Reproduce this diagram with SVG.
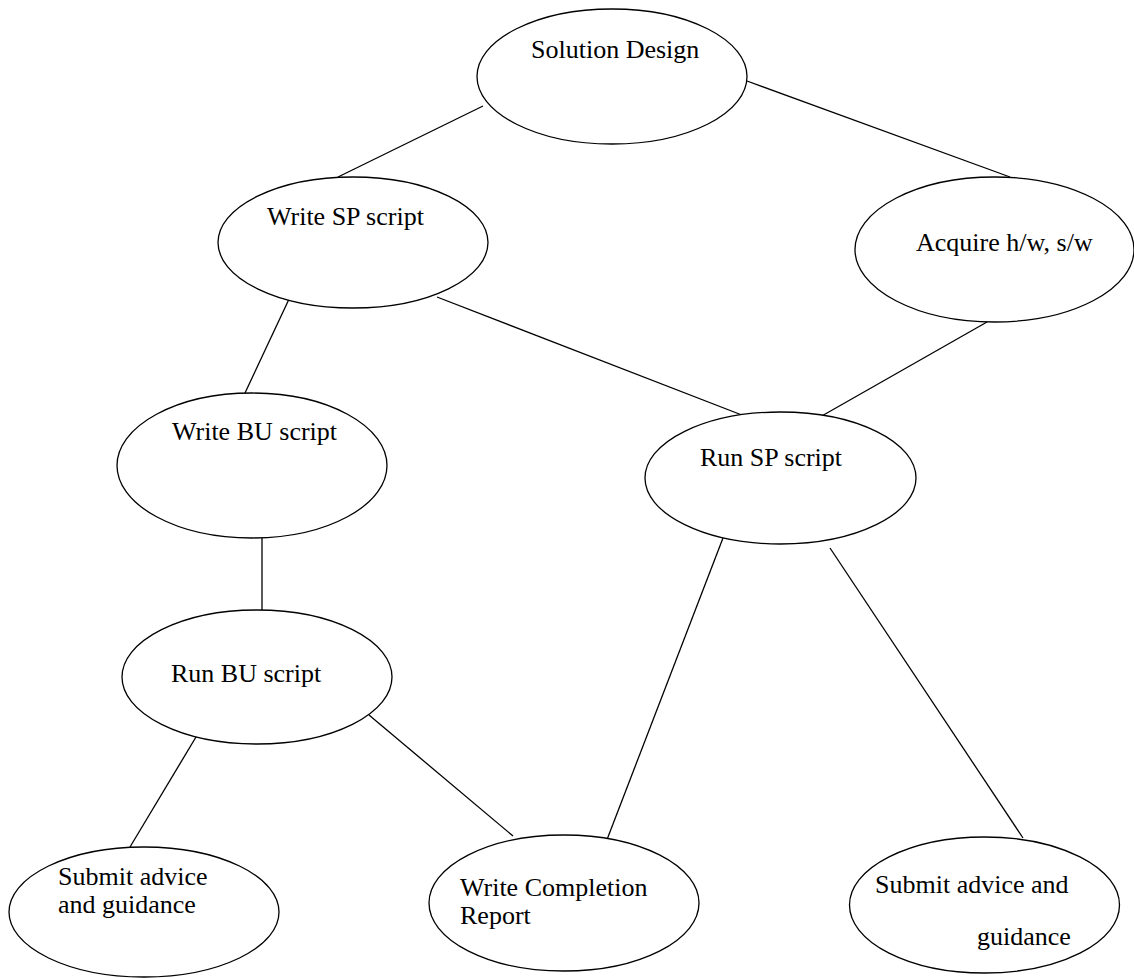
<svg xmlns="http://www.w3.org/2000/svg" width="1134" height="978" viewBox="0 0 1134 978">
<style>
.n{fill:#fff;stroke:#000;stroke-width:1.3}
.t{font-family:"Liberation Serif","Times New Roman",serif;font-size:26px;fill:#000}
.c line{stroke:#000;stroke-width:1.3}
</style>
<rect width="1134" height="978" fill="#fff"/>
<g id="connectors" class="c">
<line x1="483" y1="106" x2="338" y2="177"/>
<line x1="747" y1="81" x2="1010" y2="177"/>
<line x1="290" y1="297" x2="245" y2="393"/>
<line x1="437" y1="297" x2="747" y2="417"/>
<line x1="987" y1="322" x2="820" y2="417"/>
<line x1="262" y1="538" x2="262" y2="610"/>
<line x1="723" y1="538" x2="603" y2="850"/>
<line x1="830" y1="548" x2="1023" y2="838"/>
<line x1="202" y1="727" x2="130" y2="847"/>
<line x1="369" y1="715" x2="513" y2="836"/>
</g>
<g id="solution-design"><ellipse class="n" cx="612" cy="76.5" rx="135" ry="67.5"/><text class="t" x="531" y="58">Solution Design</text></g>
<g id="write-sp"><ellipse class="n" cx="353" cy="242.5" rx="135" ry="65.5"/><text class="t" x="267" y="225">Write SP script</text></g>
<g id="acquire"><ellipse class="n" cx="994.5" cy="249.5" rx="139.5" ry="72.5"/><text class="t" x="916" y="251">Acquire h/w, s/w</text></g>
<g id="write-bu"><ellipse class="n" cx="252" cy="465.5" rx="135" ry="72.5"/><text class="t" x="172" y="440">Write BU script</text></g>
<g id="run-sp"><ellipse class="n" cx="780.5" cy="478" rx="135.5" ry="66"/><text class="t" x="700" y="466">Run SP script</text></g>
<g id="run-bu"><ellipse class="n" cx="257" cy="677" rx="135" ry="67"/><text class="t" x="171" y="682">Run BU script</text></g>
<g id="submit-left"><ellipse class="n" cx="144" cy="912" rx="135" ry="65"/><text class="t" x="58" y="885">Submit advice</text><text class="t" x="58" y="913">and guidance</text></g>
<g id="write-completion"><ellipse class="n" cx="564" cy="903" rx="135" ry="68"/><text class="t" x="460" y="896">Write Completion</text><text class="t" x="460" y="924">Report</text></g>
<g id="submit-right"><ellipse class="n" cx="984.5" cy="905" rx="135" ry="68"/><text class="t" x="875" y="893">Submit advice and</text><text class="t" x="977" y="945">guidance</text></g>
</svg>
